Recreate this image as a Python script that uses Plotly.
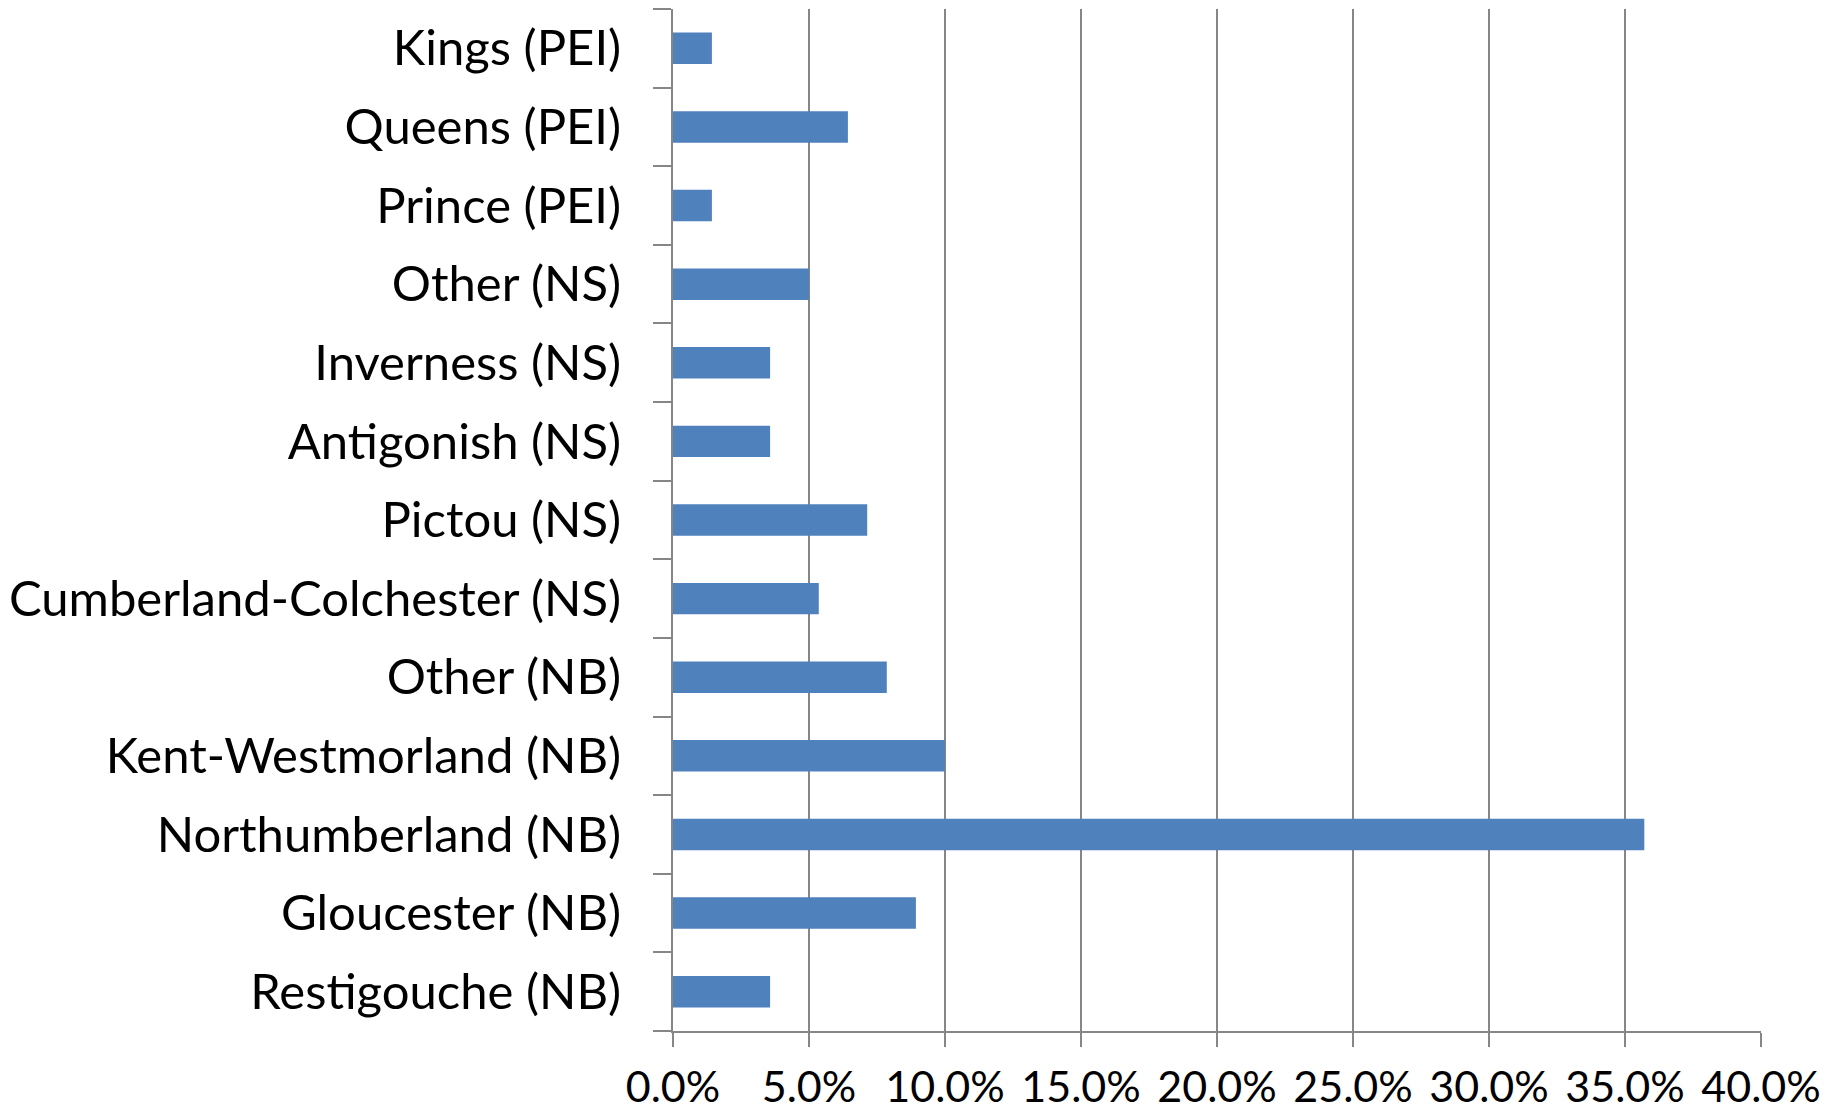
import plotly.graph_objects as go

categories = [
    "Restigouche (NB)", "Gloucester (NB)", "Northumberland (NB)",
    "Kent-Westmorland (NB)", "Other (NB)", "Cumberland-Colchester (NS)",
    "Pictou (NS)", "Antigonish (NS)", "Inverness (NS)", "Other (NS)",
    "Prince (PEI)", "Queens (PEI)", "Kings (PEI)",
]
values = [3.57, 8.93, 35.71, 10.0, 7.86, 5.36, 7.14, 3.57, 3.57, 5.0, 1.43, 6.43, 1.43]
x_ticks = [0, 5, 10, 15, 20, 25, 30, 35, 40]
x_tick_labels = ["0.0%", "5.0%", "10.0%", "15.0%", "20.0%", "25.0%", "30.0%", "35.0%", "40.0%"]

GRAY = "#868686"
FONT = "Lato"

fig = go.Figure(go.Bar(
    x=values, y=categories, orientation="h",
    marker=dict(color="#4F81BD", line=dict(width=0)),
))

fig.update_layout(
    width=1829, height=1106,
    margin=dict(l=665, r=76, t=1, b=83),
    paper_bgcolor="white", plot_bgcolor="white",
    bargap=0.6, showlegend=False,
    font=dict(family=FONT, size=49, color="black"),
)
fig.update_xaxes(
    range=[0, 40.0001], tickvals=x_ticks, ticktext=x_tick_labels,
    tickangle=0, automargin=False, tickfont=dict(size=43),
    showgrid=True, gridcolor=GRAY, gridwidth=2,
    showline=True, linecolor=GRAY, linewidth=2,
    ticks="outside", ticklen=14, tickcolor=GRAY, tickwidth=2,
    zeroline=False, ticklabelstandoff=3,
)
fig.update_yaxes(
    type="category", categoryorder="array", categoryarray=categories,
    automargin=False,
    showline=True, linecolor=GRAY, linewidth=2,
    ticks="outside", ticklen=18, tickcolor=GRAY, tickwidth=2,
    tickson="boundaries", showgrid=False, ticklabelstandoff=40,
)

fig.write_html("out.html")
